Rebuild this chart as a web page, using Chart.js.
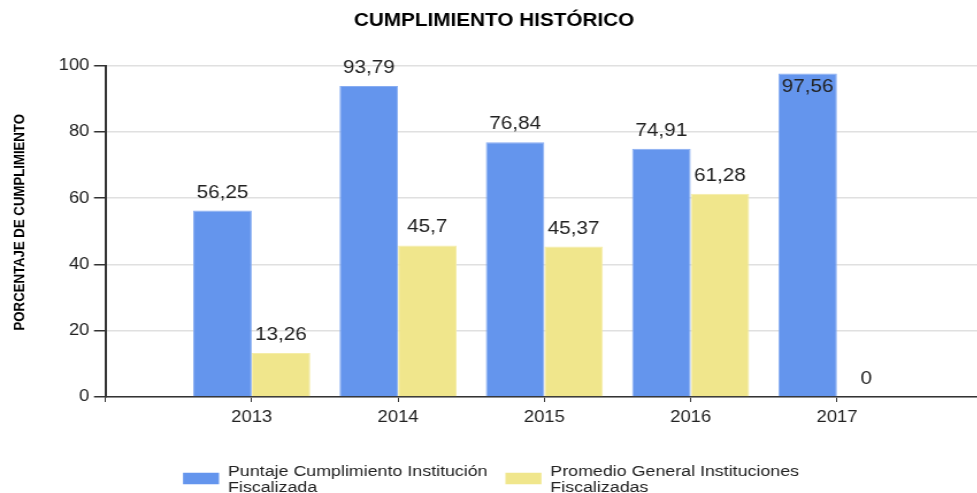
<!DOCTYPE html>
<html>
<head>
<meta charset="utf-8">
<title>Cumplimiento histórico</title>
<script src="https://cdn.jsdelivr.net/npm/chart.js@4"></script>
<style>
  html, body { margin: 0; padding: 0; background: #fff; overflow: hidden; }
  /* el grafico original se ve estirado a lo ancho */
  #wrap { width: 861px; height: 493px; transform: scaleX(1.15); transform-origin: 0 0; }
</style>
</head>
<body>
<div id="wrap"><canvas id="grafico" width="861" height="493"></canvas></div>
<script>
const anios = [2013, 2014, 2015, 2016, 2017];
const puntajeInstitucion = [56.25, 93.79, 76.84, 74.91, 97.56];
const promedioGeneral = [13.26, 45.7, 45.37, 61.28, 0];
const ticksY = [0, 20, 40, 60, 80, 100];
const nombresSeries = [
  ['Puntaje Cumplimiento Institución', 'Fiscalizada'],
  ['Promedio General Instituciones', 'Fiscalizadas']
];
const coloresSeries = ['#6495ed', '#f0e68c'];
const bordesSeries = ['#88adf2', '#f5eda8'];

const FUENTE = '"Liberation Sans", Arial, sans-serif';
const formato = v => String(v).replace('.', ',');

// titulo y titulo del eje Y
const titulos = {
  id: 'titulos',
  afterDraw(chart) {
    const { ctx, chartArea } = chart;
    ctx.save();
    ctx.fillStyle = '#000';
    ctx.textAlign = 'center';
    ctx.textBaseline = 'middle';
    ctx.font = 'bold 18px ' + FUENTE;
    ctx.fillText('CUMPLIMIENTO HISTÓRICO', chart.width / 2 - 0.8, 21);
    ctx.translate(17.8, (chartArea.top + chartArea.bottom) / 2 - 9);
    ctx.rotate(-Math.PI / 2);
    ctx.font = 'bold 13.2px ' + FUENTE;
    ctx.fillText('PORCENTAJE DE CUMPLIMIENTO', 0, 0);
    ctx.restore();
  }
};

// valores encima de cada barra
const etiquetasValores = {
  id: 'etiquetasValores',
  afterDatasetsDraw(chart) {
    const { ctx, chartArea } = chart;
    ctx.save();
    ctx.font = '18px ' + FUENTE;
    ctx.fillStyle = '#222';
    ctx.textAlign = 'center';
    ctx.textBaseline = 'middle';
    chart.data.datasets.forEach((ds, i) => {
      chart.getDatasetMeta(i).data.forEach((barra, j) => {
        let y = barra.y - 18;
        if (y - 9 < chartArea.top - 12) y = barra.y + 13; // no cabe arriba
        ctx.fillText(formato(ds.data[j].y), barra.x, y);
      });
    });
    ctx.restore();
  }
};

// leyenda abajo con textos de dos lineas
const leyenda = {
  id: 'leyenda',
  afterDraw(chart) {
    const { ctx } = chart;
    const caja = 31.3, sep = 7.8, entre = 15.5, yMedio = 478.5, alto = 11.5;
    ctx.save();
    ctx.font = '15.5px ' + FUENTE;
    const anchos = nombresSeries.map(l => Math.max(...l.map(t => ctx.measureText(t).width)));
    const total = anchos.reduce((a, w) => a + caja + sep + w, 0) + entre * (anchos.length - 1);
    let x = (chart.width - total) / 2 - 3.5;
    nombresSeries.forEach((lineas, i) => {
      ctx.fillStyle = coloresSeries[i];
      ctx.fillRect(x, yMedio - alto / 2, caja, alto);
      ctx.fillStyle = '#222';
      ctx.textAlign = 'left';
      ctx.textBaseline = 'alphabetic';
      lineas.forEach((t, k) => ctx.fillText(t, x + caja + sep, 476 + k * 15.5));
      x += caja + sep + anchos[i] + entre;
    });
    ctx.restore();
  }
};

new Chart(document.getElementById('grafico'), {
  type: 'bar',
  data: {
    datasets: [
      {
        label: nombresSeries[0].join(' '),
        data: anios.map((a, i) => ({ x: a, y: puntajeInstitucion[i] })),
        backgroundColor: coloresSeries[0],
        borderColor: bordesSeries[0],
        borderWidth: 1,
        categoryPercentage: 0.8,
        barPercentage: 1
      },
      {
        label: nombresSeries[1].join(' '),
        data: anios.map((a, i) => ({ x: a, y: promedioGeneral[i] })),
        backgroundColor: coloresSeries[1],
        borderColor: bordesSeries[1],
        borderWidth: 1,
        categoryPercentage: 0.8,
        barPercentage: 1
      }
    ]
  },
  options: {
    responsive: false,
    animation: false,
    devicePixelRatio: 1,
    layout: { padding: { top: 65.5, right: 2, bottom: 66, left: 0 } },
    plugins: {
      legend: { display: false },
      title: { display: false },
      tooltip: { enabled: false }
    },
    scales: {
      x: {
        type: 'linear',
        min: anios[0] - 1,
        max: anios[anios.length - 1] + 1,
        offset: false,
        ticks: {
          stepSize: 1,
          autoSkip: false,
          maxRotation: 0,
          padding: 6,
          color: '#222',
          font: { family: FUENTE, size: 16 },
          callback: v => anios.includes(v) ? String(v) : ''
        },
        grid: { offset: false, drawOnChartArea: false, drawTicks: true, tickLength: 5, tickColor: '#333' },
        border: { color: '#333', width: 1.5 },
        afterFit: s => { s.height = 30; }
      },
      y: {
        min: ticksY[0],
        max: ticksY[ticksY.length - 1],
        ticks: {
          stepSize: ticksY[1] - ticksY[0],
          padding: 4,
          color: '#222',
          font: { family: FUENTE, size: 16 }
        },
        grid: { color: '#e0e0e0', lineWidth: 1.5, tickColor: '#333', tickLength: 10 },
        border: { color: '#333', width: 2 },
        afterFit: s => { s.width = 91.7; }
      }
    }
  },
  plugins: [titulos, etiquetasValores, leyenda]
});
</script>
</body>
</html>
